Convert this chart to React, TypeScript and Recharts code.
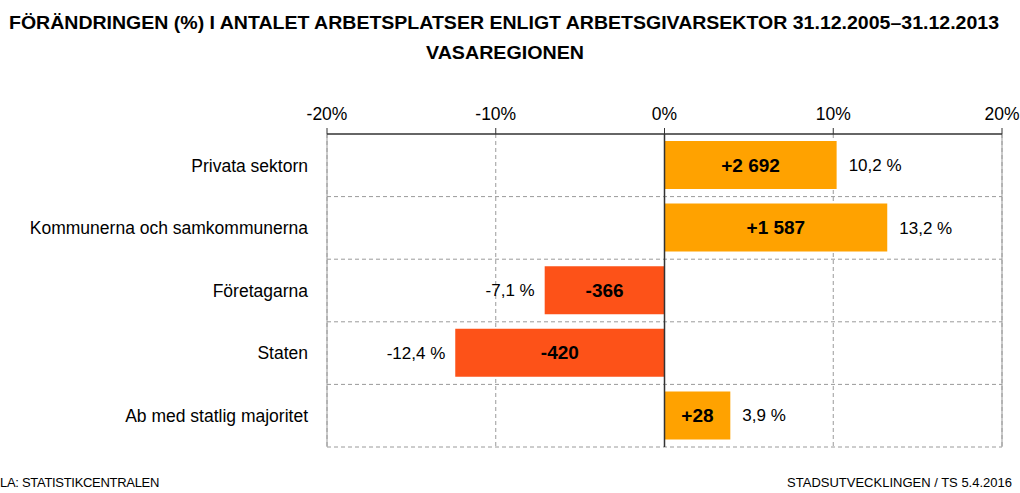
import React from 'react';
import { BarChart, Bar, XAxis, YAxis, CartesianGrid, ReferenceLine, LabelList, Cell } from 'recharts';

const categories = ['Privata sektorn', 'Kommunerna och samkommunerna', 'Företagarna', 'Staten', 'Ab med statlig majoritet'];
const changePct = [10.2, 13.2, -7.1, -12.4, 3.9];
const changeCount = ['+2 692', '+1 587', '-366', '-420', '+28'];
const xTicks = [-20, -10, 0, 10, 20];
const titleLines = ['FÖRÄNDRINGEN (%) I ANTALET ARBETSPLATSER ENLIGT ARBETSGIVARSEKTOR 31.12.2005–31.12.2013', 'VASAREGIONEN'];
const footerLeft = 'LA: STATISTIKCENTRALEN';
const footerRight = 'STADSUTVECKLINGEN / TS 5.4.2016';

const POS_COLOR = '#FFA200';
const NEG_COLOR = '#FD5218';
const FONT = '"Liberation Sans", Arial, sans-serif';

const data = categories.map((c, i) => ({
  name: c,
  pct: changePct[i],
  count: changeCount[i],
  pctLabel: `${changePct[i].toFixed(1).replace('.', ',')} %`,
}));

const InsideLabel = (props: any) => {
  const { x, y, width, height, index } = props;
  const left = Math.min(x, x + width);
  const w = Math.abs(width);
  return (
    <text x={left + w / 2} y={y + height / 2} dy="0.35em" textAnchor="middle" fontFamily={FONT} fontWeight="bold" fontSize={19} fill="#000">
      {data[index].count}
    </text>
  );
};

const OutsideLabel = (props: any) => {
  const { x, y, width, height, index } = props;
  const left = Math.min(x, x + width);
  const right = Math.max(x, x + width);
  const neg = data[index].pct < 0;
  return (
    <text x={neg ? left - 10 : right + 12} y={y + height / 2} dy="0.35em" textAnchor={neg ? 'end' : 'start'} fontFamily={FONT} fontSize={17} fill="#000">
      {data[index].pctLabel}
    </text>
  );
};

export default function App() {
  const W = 1020;
  const H = 493;
  return (
    <div style={{ position: 'absolute', left: 0, top: 0, width: W, height: H, background: '#fff', fontFamily: FONT }}>
      <BarChart
        width={W}
        height={H}
        data={data}
        layout="vertical"
        margin={{ top: 90, right: 18, bottom: 46, left: 0 }}
      >
        <CartesianGrid
          stroke="#9a9a9a"
          strokeDasharray="4 3"
          horizontalCoordinatesGenerator={({ offset }: any) =>
            [1, 2, 3, 4, 5].map((i) => offset.top + (i * offset.height) / 5)
          }
        />
        <ReferenceLine x={-20} stroke="#9a9a9a" />
        <ReferenceLine x={20} stroke="#9a9a9a" />
        <XAxis
          type="number"
          orientation="top"
          domain={[-20, 20]}
          ticks={xTicks}
          tickFormatter={(v: number) => `${v}%`}
          height={44}
          axisLine={{ stroke: '#333', strokeWidth: 1.5 }}
          tickLine={{ stroke: '#333' }}
          tickSize={6}
          tickMargin={8}
          tick={{ fill: '#000', fontSize: 17.5, fontFamily: FONT }}
        />
        <YAxis
          type="category"
          dataKey="name"
          width={327}
          axisLine={false}
          tickLine={false}
          tickMargin={13}
          tick={{ fill: '#000', fontSize: 17.5, fontFamily: FONT }}
        />
        <Bar dataKey="pct" barSize={48} isAnimationActive={false}>
          {data.map((d, i) => (
            <Cell key={i} fill={d.pct < 0 ? NEG_COLOR : POS_COLOR} />
          ))}
          <LabelList dataKey="pct" content={InsideLabel} />
          <LabelList dataKey="pct" content={OutsideLabel} />
        </Bar>
        <ReferenceLine x={0} stroke="#333" strokeWidth={1.5} />
      </BarChart>
      <svg width={W} height={70} style={{ position: 'absolute', left: 0, top: 0 }}>
        <text x={504} y={29} textAnchor="middle" fontFamily={FONT} fontWeight="bold" fontSize={18} fill="#000" textLength={990} lengthAdjust="spacingAndGlyphs">
          {titleLines[0]}
        </text>
        <text x={505} y={59} textAnchor="middle" fontFamily={FONT} fontWeight="bold" fontSize={18} fill="#000" textLength={158} lengthAdjust="spacingAndGlyphs">
          {titleLines[1]}
        </text>
      </svg>
      <div style={{ position: 'absolute', left: 0, top: 475, fontSize: 13, color: '#000', letterSpacing: -0.3 }}>{footerLeft}</div>
      <div style={{ position: 'absolute', right: 8, top: 475, fontSize: 13, color: '#000' }}>{footerRight}</div>
    </div>
  );
}
